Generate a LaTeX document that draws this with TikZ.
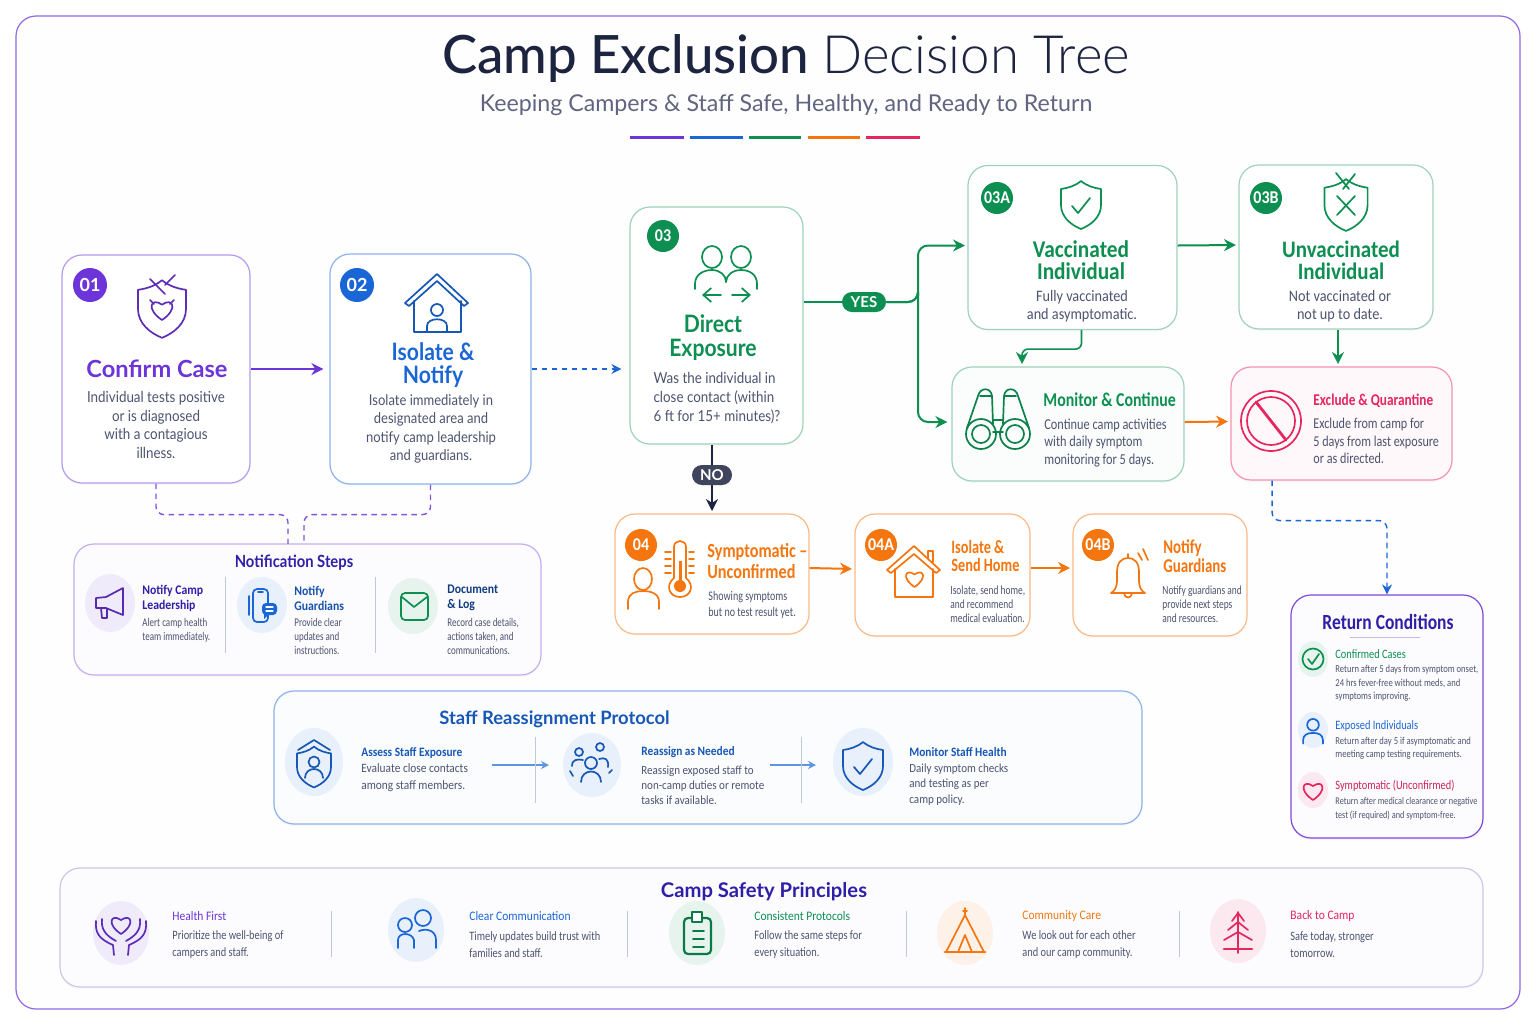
\documentclass[tikz,border=0pt]{standalone}
\usepackage{fontspec}
\setmainfont{Lato}
\newfontfamily\lightf{Lato Light}
\newfontfamily\nra[FakeStretch=0.88]{Lato}
\newfontfamily\nrb[FakeStretch=0.89]{Carlito}
\newfontfamily\nrc[FakeStretch=0.81]{Carlito}
\newfontfamily\nrd[FakeStretch=0.76]{Carlito}
\usetikzlibrary{arrows.meta,shadows,calc}
\definecolor{cpur}{HTML}{6D35D9}
\definecolor{cblu}{HTML}{1B66D6}
\definecolor{cgrn}{HTML}{0E8F52}
\definecolor{corg}{HTML}{F5760F}
\definecolor{cpnk}{HTML}{E5265F}
\definecolor{cnav}{HTML}{1D2440}
\definecolor{cbody}{HTML}{4E5370}
\definecolor{cind}{HTML}{2F1FA8}
\newcommand{\fz}[2]{\fontsize{#1}{#2}\selectfont}
\newcommand{\shieldp}{(0,-24) .. controls (-6,-19) and (-13,-17) .. (-20,-16) -- (-20,0) .. controls (-20,12) and (-10,20) .. (0,24) .. controls (10,20) and (20,12) .. (20,0) -- (20,-16) .. controls (13,-17) and (6,-19) .. (0,-24) -- cycle}
\newcommand{\heartp}{(0,10) .. controls (-15,0) and (-10,-11) .. (0,-4) .. controls (10,-11) and (15,0) .. (0,10) -- cycle}
\newcommand{\personp}{(0,-8) circle (6.5) (-11,13) -- (-11,9) .. controls (-11,3) and (-6,1) .. (0,1) .. controls (6,1) and (11,3) .. (11,9) -- (11,13)}
\tikzset{
  card/.style={draw=#1, fill=white, rounded corners=10pt, line width=0.6pt, inner sep=0pt, drop shadow={shadow xshift=0pt, shadow yshift=-1pt, opacity=0.07, fill=#1}},
  sized/.style 2 args={minimum width=#1*0.5pt, minimum height=#2*0.5pt},
  badge/.style={circle, fill=#1, text=white, inner sep=0pt, minimum size=17pt, font=\bfseries\fz{9}{9}},
  badgec/.style={circle, fill=#1, text=white, inner sep=0pt, minimum size=16pt, font=\nrb\bfseries\fz{9}{9}},
  pill/.style={rounded corners=5pt, fill=#1, text=white, inner sep=0pt, minimum width=22pt, minimum height=10pt, font=\bfseries\fz{7.5}{8}},
  tc/.style={inner sep=0pt, align=center},
  tl/.style={inner sep=0pt, align=left, anchor=west},
  flow/.style={-{Stealth[length=6pt,width=6pt]}, line width=1pt, rounded corners=5pt, shorten >=1.2pt},
  dflow/.style={-{Stealth[length=5pt,width=5pt]}, line width=0.7pt, rounded corners=4pt, dash pattern=on 2.8pt off 2.2pt},
  ic/.style={draw=#1, line width=0.85pt, line cap=round, line join=round},
  sep/.style={draw=#1, line width=0.5pt},
}
\begin{document}
\begin{tikzpicture}[x=0.5pt, y=-0.5pt]
\useasboundingbox (0,0) rectangle (1536,1024);
\fill[white] (0,0) rectangle (1536,1024);
\draw[draw=cpur!75, fill=blue!0.4, line width=0.6pt, rounded corners=10pt] (16,16) rectangle (1520,1009);
% title
\node[tc, font=\fz{26.4}{27}, text=cnav] (heading) at (786,59) {{\fontspec{Lato Medium}Camp Exclusion} {\lightf Decision Tree}};
\node[tc, font=\fz{11.6}{14}, text=cbody!90] (subhead) at (786,105) {Keeping Campers \& Staff Safe, Healthy, and Ready to Return};
\foreach \xa/\xb/\col in {630/684/cpur, 690/743/cblu, 749/801/cgrn, 808/860/corg, 866/920/cpnk}
  \draw[\col, line width=1.5pt] (\xa,137) -- (\xb,137);
% main cards
\node[card=cpur!50, sized={188}{228}] (case) at (156,369) {};
\node[card=cblu!50, sized={201}{230}] (notify) at (430.5,369) {};
\node[card=cgrn!40, sized={173}{237}] (expo) at (716.5,325.5) {};
\node[card=cgrn!40, sized={209}{164}] (vacc) at (1072.5,247.5) {};
\node[card=cgrn!40, sized={194}{164}] (unvac) at (1336,247) {};
\node[card=cgrn!40, fill=cgrn!2, sized={232}{114}] (monit) at (1068,424) {};
\node[card=cpnk!50, fill=cpnk!3, sized={221}{113}] (excl) at (1341.5,423.5) {};
\node[card=corg!50, sized={194}{120}] (sympt) at (712,574) {};
\node[card=corg!50, sized={175}{122}] (home) at (942.5,575) {};
\node[card=corg!50, sized={174}{122}] (guard) at (1160,575) {};
\node[card=cpur!40, fill=cpur!2, sized={467}{131}] (steps) at (307.5,609.5) {};
\node[card=cblu!50, fill=cblu!2, sized={868}{133}] (staff) at (708,757.5) {};
\node[card=cpur!90, fill=cpur!2, sized={192}{243}] (retrn) at (1387,716.5) {};
\node[card=cind!25, fill=cind!1.5, sized={1423}{119}] (princ) at (771.5,927.5) {};
% badges
\node[badge=cpur] (b1) at (90,285) {01};
\node[badge=cblu] (b2) at (357,285) {02};
\node[badgec=cgrn] (b3) at (663,236) {03};
\node[badgec=cgrn] (b3a) at (997,198) {03A};
\node[badgec=cgrn] (b3b) at (1266,198) {03B};
\node[badgec=corg] (b4) at (641,545) {04};
\node[badgec=corg] (b4a) at (881,545) {04A};
\node[badgec=corg] (b4b) at (1098,545) {04B};
% connectors
\coordinate (noteL) at (288,544); \coordinate (noteR) at (304,544);
\node[pill=cgrn] (yes) at (864,302) {YES};
\node[pill=cnav!85, minimum width=20pt] (no) at (712,475) {NO};
\draw[flow, cpur, shorten >=3pt] (case) -- (notify);
\draw[dflow, cblu] (notify.east) -- ([xshift=-4pt]notify.east -| expo.west);
\draw[dflow, cpur!85, -] (case.south) -- ++(0,31) -| (noteL);
\draw[dflow, cpur!85, -] (notify.south) -- ++(0,30) -| (noteR);
\draw[line width=1pt, cgrn] (expo.east |- yes) -- (yes);
\draw[flow, cgrn] (yes) -| (918,302) |- ([yshift=1pt]vacc.west);
\draw[flow, cgrn, shorten >=2pt] (yes) -| (918,302) |- ([yshift=1pt]monit.west);
\draw[flow, cgrn] ([yshift=1pt]vacc.east) -- ([yshift=1pt]unvac.west);
\draw[flow, cgrn, line width=0.8pt, rounded corners=3pt] ([xshift=4.5pt]vacc.south) -- ++(0,19) -| ([xshift=-23pt]monit.north);
\draw[flow, cgrn] ([xshift=1pt]unvac.south) -- ([xshift=1pt]unvac.south |- excl.north);
\draw[flow, corg] ([yshift=1pt]monit.east) -- ([yshift=1pt]excl.west);
\draw[line width=1pt, cnav] (expo.south -| no) -- (no);
\draw[flow, cnav] (no) -- (no |- sympt.north);
\draw[flow, corg] ([yshift=3pt]sympt.east) -- ([yshift=3pt]home.west);
\draw[flow, corg] ([yshift=3.5pt]home.east) -- ([yshift=3.5pt]guard.west);
\draw[dflow, cblu] ([xshift=-34.7pt]excl.south) -- ++(0,40) -| (retrn.north);
% card texts
\node[tc, font=\fz{11.8}{12}\bfseries, text=cpur] (caseT) at (157,369) {Confirm Case};
\node[tc, font=\nra\fz{7.6}{9.25}, text=cbody] (caseB) at (156,425) {Individual tests positive\\ or is diagnosed\\ with a contagious\\ illness.};
\node[tc, font=\nra\fz{12}{11.5}\bfseries, text=cblu] (notifyT) at (433,365) {Isolate \&\\ Notify};
\node[tc, font=\nra\fz{7.4}{9.25}, text=cbody] (notifyB) at (431,429) {Isolate immediately in\\ designated area and\\ notify camp leadership\\ and guardians.};
\node[tc, font=\nra\fz{12}{12}\bfseries, text=cgrn] (expoT) at (713,338) {Direct\\ Exposure};
\node[tc, font=\nra\fz{7.6}{9.5}, text=cbody, align=left] (expoB) at (717,398) {Was the individual in\\ close contact (within\\ 6 ft for 15+ minutes)?};
\node[tc, font=\nrb\fz{12}{11}\bfseries, text=cgrn] (vaccT) at (1081,260) {Vaccinated\\ Individual};
\node[tc, font=\nrb\fz{8}{9}, text=cbody] (vaccB) at (1082,306) {Fully vaccinated\\ and asymptomatic.};
\node[tc, font=\nrb\fz{11.8}{11}\bfseries, text=cgrn] (unvacT) at (1341,260) {Unvaccinated\\ Individual};
\node[tc, font=\nrb\fz{8}{9}, text=cbody] (unvacB) at (1340,306) {Not vaccinated or\\ not up to date.};
\node[tl, font=\nrc\fz{9.8}{10}\bfseries, text=cgrn] (monitT) at (1043,400) {Monitor \& Continue};
\node[tl, font=\nrc\fz{7.6}{8.8}, text=cbody] (monitB) at (1044,443) {Continue camp activities\\ with daily symptom\\ monitoring for 5 days.};
\node[tl, font=\nrc\fz{8.2}{9}\bfseries, text=cpnk] (exclT) at (1313,401) {Exclude \& Quarantine};
\node[tl, font=\nrc\fz{7.5}{8.6}, text=cbody] (exclB) at (1313,441) {Exclude from camp for\\ 5 days from last exposure\\ or as directed.};
\node[tl, font=\nrc\fz{10}{10.5}\bfseries, text=corg] (symptT) at (707,561.5) {Symptomatic –\\ Unconfirmed};
\node[tl, font=\nrd\fz{6.6}{8}, text=cbody] (symptB) at (708,605) {Showing symptoms\\ but no test result yet.};
\node[tl, font=\nrd\fz{9.4}{9}\bfseries, text=corg] (homeT) at (951,556) {Isolate \&\\ Send Home};
\node[tl, font=\nrd\fz{6.2}{7}, text=cbody] (homeB) at (950,604) {Isolate, send home,\\ and recommend\\ medical evaluation.};
\node[tl, font=\nrd\fz{9.8}{9.5}\bfseries, text=corg] (guardT) at (1163,556.5) {Notify\\ Guardians};
\node[tl, font=\nrd\fz{6.2}{7}, text=cbody] (guardB) at (1162,604) {Notify guardians and\\ provide next steps\\ and resources.};
% notification steps
\node[tc, font=\nra\fz{8.4}{9}\bfseries, text=cind] (stepsT) at (294,562.5) {Notification Steps};
\node[tl, font=\nrb\fz{6.6}{7.6}\bfseries, text=cind] (s1T) at (142,598) {Notify Camp\\ Leadership};
\node[tl, font=\nrd\fz{5.9}{7}, text=cbody] (s1B) at (142,630) {Alert camp health\\ team immediately.};
\node[tl, font=\nrb\fz{6.6}{7.6}\bfseries, text=cblu!80!black] (s2T) at (294,598) {Notify\\ Guardians};
\node[tl, font=\nrd\fz{5.9}{6.8}, text=cbody] (s2B) at (294,636.5) {Provide clear\\ updates and\\ instructions.};
\node[tl, font=\nrb\fz{6.6}{7.6}\bfseries, text=cblu!60!black] (s3T) at (447,598) {Document\\ \& Log};
\node[tl, font=\nrd\fz{5.9}{6.8}, text=cbody] (s3B) at (447,636.5) {Record case details,\\ actions taken, and\\ communications.};
% staff protocol
\node[tl, font=\fz{9.2}{10}\bfseries, text=cblu!85!black] (staffT) at (439,719) {Staff Reassignment Protocol};
\node[tl, font=\nrb\fz{6.4}{7}\bfseries, text=cblu!85!black] (f1T) at (361,752.5) {Assess Staff Exposure};
\node[tl, font=\nrb\fz{6.4}{8.5}, text=cbody] (f1B) at (361,777.5) {Evaluate close contacts\\ among staff members.};
\node[tl, font=\nrb\fz{6.4}{7}\bfseries, text=cblu!85!black] (f2T) at (641,752.5) {Reassign as Needed};
\node[tl, font=\nrb\fz{6.2}{7.6}, text=cbody] (f2B) at (641,785) {Reassign exposed staff to\\ non-camp duties or remote\\ tasks if available.};
\node[tl, font=\nrb\fz{6.4}{7}\bfseries, text=cblu!85!black] (f3T) at (909,752.5) {Monitor Staff Health};
\node[tl, font=\nrb\fz{6.2}{7.7}, text=cbody] (f3B) at (909,784.5) {Daily symptom checks\\ and testing as per\\ camp policy.};
\coordinate (fa) at (492,765); \coordinate (fb) at (549,765); \coordinate (fc) at (770,765); \coordinate (fd) at (816,765);
\draw[flow, cblu!70!white, line width=0.55pt, shorten >=0pt, -{Stealth[length=4pt,width=4pt]}] (fa) -- (fb);
\draw[flow, cblu!70!white, line width=0.55pt, shorten >=0pt, -{Stealth[length=4pt,width=4pt]}] (fc) -- (fd);
% return conditions
\node[tc, font=\nrc\fz{10.8}{11}\bfseries, text=cind] (retrnT) at (1388,622) {Return Conditions};
\draw[cind!30, line width=0.5pt] (1350,637) -- (1420,637);
\node[tl, font=\nrc\fz{6.4}{7}, text=cgrn] (r1T) at (1335,654) {Confirmed Cases};
\node[tl, font=\nrc\fz{5.3}{6.7}, text=cbody] (r1B) at (1335,683.5) {Return after 5 days from symptom onset,\\ 24 hrs fever-free without meds, and\\ symptoms improving.};
\node[tl, font=\nrc\fz{6.4}{7}, text=cblu] (r2T) at (1335,726) {Exposed Individuals};
\node[tl, font=\nrc\fz{5.3}{6.6}, text=cbody] (r2B) at (1335,748.5) {Return after day 5 if asymptomatic and\\ meeting camp testing requirements.};
\node[tl, font=\nrc\fz{6.4}{7}, text=cpnk!90!black] (r3T) at (1335,786) {Symptomatic (Unconfirmed)};
\node[tl, font=\nrc\fz{5.1}{6.8}, text=cbody] (r3B) at (1335,809) {Return after medical clearance or negative\\ test (if required) and symptom-free.};
% principles
\node[tc, font=\fz{10.1}{11}\bfseries, text=cind] (princT) at (764,892) {Camp Safety Principles};
\foreach \nm/\xx/\col/\head/\la/\lb in {p1/172/cpur/Health First/Prioritize the well-being of/campers and staff., p2/469/cblu/Clear Communication/Timely updates build trust with/families and staff., p3/754/cgrn/Consistent Protocols/Follow the same steps for/every situation., p4/1022/corg/Community Care/We look out for each other/and our camp community., p5/1290/cpnk/Back to Camp/{Safe today, stronger}/tomorrow.}{
  \node[tl, font=\nrb\fz{6.5}{7}, text=\col] (\nm T) at (\xx,916) {\head};
  \node[tl, font=\nrc\fz{6.4}{8.5}, text=cbody] (\nm B) at (\xx,944.5) {\la\\ \lb};
}
% dividers
\foreach \xx/\ya/\yb in {225/577/653, 375/577/653, 535/737/803, 801/737/803, 331/911/957, 627/911/957, 906/911/957, 1179/911/957}
  \draw[sep=cblu!40!black!25] (\xx,\ya) -- (\xx,\yb);
% icon discs
\foreach \xx/\yy/\rx/\ry/\col in {110/603/25/29/cpur, 262/605/25/28/cblu, 413/606/25/28/cgrn, 314/762/29/34/cblu, 592/765/29/32/cblu, 863/762/30/34/cblu, 1313/659/15/18/cgrn, 1313/730/15/18/cblu, 1313/790/15/18/cpnk, 121/933/28/32/cpur, 416/930/28/32/cblu, 697/933/28/32/cgrn, 965/933/28/32/corg, 1238/931/28/32/cpnk}
  \fill[\col!10] (\xx,\yy) ellipse [x radius=\rx, y radius=\ry];
% icons, step 01
\begin{scope}[shift={(162,309)}, ic=cpur!85!black]
  \draw[scale=1.2] \shieldp; \draw (-12,-30) -- (3,-15) (3,-24) -- (13,-34);
  \draw[scale=1.1] \heartp; \draw (-12,-9) -- (-8,-5) (12,-9) -- (8,-5);
\end{scope}
% step 02
\begin{scope}[shift={(436,304)}, ic=cblu!85!black]
  \draw (-31,-1) -- (1,-30) -- (32,-1) -- (28,2) -- (1,-23) -- (-27,2) -- cycle;
  \draw (-22,-3) -- (-22,28) -- (25,28) -- (25,-3);
  \draw (1,6) circle (6); \draw (-9,28) -- (-9,22) .. controls (-9,13) and (11,13) .. (11,22) -- (11,28);
\end{scope}
% step 03
\begin{scope}[shift={(726,272)}, ic=cgrn]
  \draw (-14,-15) ellipse [x radius=10, y radius=11] (15,-15) ellipse [x radius=10, y radius=11];
  \draw (-31,17) -- (-31,12) .. controls (-31,2) and (-22,-2) .. (-14,-2) .. controls (-6,-2) and (0,3) .. (0,10);
  \draw (0,10) .. controls (0,3) and (7,-2) .. (15,-2) .. controls (23,-2) and (31,2) .. (31,12) -- (31,17);
  \draw[-{Straight Barb[length=4pt,width=7pt]}] (-5,23) -- (-24,23); \draw[-{Straight Barb[length=4pt,width=7pt]}] (6,23) -- (25,23);
\end{scope}
% step 03A and 03B
\begin{scope}[shift={(1081,205)}, ic=cgrn]
  \draw \shieldp; \draw (-9,1) -- (-3,8) -- (9,-7);
\end{scope}
\begin{scope}[shift={(1346,205)}, ic=cgrn]
  \draw[scale=1.08] \shieldp; \draw (-9,-9) -- (9,10) (9,-9) -- (-9,10); \draw (-10,-32) -- (3,-16) (-3,-16) -- (9,-31);
\end{scope}
% monitor, exclude
\begin{scope}[shift={(998,420)}, ic=cgrn!90!black]
  \foreach \s in {-1,1}{
    \draw (17*\s,14) circle (15) (17*\s,14) circle (9);
    \draw (31*\s,8) -- (20*\s,-24) .. controls (18*\s,-33) and (7*\s,-33) .. (6*\s,-24) -- (5*\s,4);
    \draw (18*\s,-24) -- (7*\s,-24);
  }
  \draw (-5,0) -- (5,0) (-5,12) -- (5,12);
\end{scope}
\begin{scope}[shift={(1271,421)}, ic=cpnk]
  \draw (0,0) circle (30) (0,0) circle (24);
  \draw[line width=1.4pt] (-15,-19) -- (15,19);
\end{scope}
% step 04, 04A, 04B
\begin{scope}[shift={(645,590)}, ic=corg]
  \draw (-2,-11) ellipse [x radius=9, y radius=11];
  \draw (-17,19) -- (-17,12) .. controls (-17,3) and (-9,1) .. (-2,1) .. controls (5,1) and (14,3) .. (14,12) -- (14,19);
\end{scope}
\begin{scope}[shift={(680,585)}, ic=corg]
  \draw (-6,-7) -- (-6,-38) .. controls (-6,-46) and (6,-46) .. (6,-38) -- (6,-7) .. controls (15,0) and (11,12) .. (0,12) .. controls (-11,12) and (-15,0) .. (-6,-7) -- cycle;
  \fill[corg] (0,1) circle (6); \fill[corg] (-1.5,-24) rectangle (1.5,0);
  \foreach \yy in {-33,-26,-19,-12}{\draw (-15,\yy) -- (-9,\yy) (9,\yy) -- (14,\yy);}
\end{scope}
\begin{scope}[shift={(913,572)}, ic=corg]
  \draw (-26,-2) -- (1,-26) -- (27,-2) -- (23,1) -- (1,-18) -- (-22,1) -- cycle;
  \draw (-18,-3) -- (-18,25) -- (20,25) -- (20,-3); \draw (15,-14) -- (15,-21) -- (20,-21) -- (20,-10);
  \begin{scope}[shift={(1.5,6)}, scale=0.9] \draw \heartp; \end{scope}
\end{scope}
\begin{scope}[shift={(1128,575)}, ic=corg]
  \draw (-17,18) .. controls (-10,14) and (-11,6) .. (-11,-3) .. controls (-11,-13) and (-6,-17) .. (0,-17) .. controls (6,-17) and (11,-13) .. (11,-3) .. controls (11,6) and (10,14) .. (17,18) -- cycle;
  \draw (0,-17) -- (0,-21) (-4,18) .. controls (-4,24) and (4,24) .. (4,18);
  \draw (10,-22) -- (14,-15) (15,-26) -- (20,-15);
\end{scope}
% notification icons
\begin{scope}[shift={(110,603)}, ic=cpur!80!black]
  \draw (13,-15) -- (-4,-6) -- (-14,-5) -- (-14,5) -- (-4,5) -- (13,12) -- cycle;
  \draw (-9,5) -- (-8,15) -- (-3,15) -- (-3,6);
\end{scope}
\begin{scope}[shift={(260,605)}, ic=cblu]
  \draw[rounded corners=2pt] (-7,-16) rectangle (8,17); \draw (-11,-9) -- (-11,10) (-2,-13) -- (3,-13);
  \fill[cblu, rounded corners=2pt] (2,-2) rectangle (17,10); \fill[cblu] (4,8) -- (4,14) -- (9,9) -- cycle;
  \draw[white, line width=0.6pt] (6,2) -- (13,2) (6,6) -- (13,6);
\end{scope}
\begin{scope}[shift={(414,606)}, ic=cgrn]
  \draw[rounded corners=2pt] (-13,-13) rectangle (14,14); \draw (-12,-9) -- (0,1) -- (13,-9);
\end{scope}
% staff icons
\begin{scope}[shift={(314,767)}, ic=cblu!85!black]
  \draw[scale=0.85] \shieldp; \draw (-16,-17) -- (0,-27) -- (16,-17);
  \draw (0,-5) circle (5.5); \draw (-9,11) .. controls (-9,-1) and (9,-1) .. (9,11);
\end{scope}
\begin{scope}[shift={(591,768)}, ic=cblu!85!black]
  \draw (0,-5) circle (6); \draw (-10,14) .. controls (-10,0) and (10,0) .. (10,14);
  \draw (-12,-16) circle (4) (9,-21) circle (4); \draw (-19,-2) .. controls (-19,-9) and (-13,-9) .. (-8,-8);
  \draw (8,-9) .. controls (14,-11) and (18,-9) .. (17,-1);
  \draw (-21,3) -- (-18,8) (21,2) -- (18,5);
\end{scope}
\begin{scope}[shift={(863,766)}, ic=cblu!85!black]
  \draw \shieldp; \draw (-9,1) -- (-3,8) -- (9,-7);
\end{scope}
% return icons
\begin{scope}[shift={(1313,659)}, ic=cgrn]
  \draw (0,0) circle (10.5); \draw (-5,0) -- (-1,5) -- (6,-5);
\end{scope}
\begin{scope}[shift={(1313,732)}, ic=cblu]
  \draw[scale=0.9] \personp;
\end{scope}
\begin{scope}[shift={(1313,790)}, ic=cpnk]
  \draw \heartp;
\end{scope}
% principle icons
\begin{scope}[shift={(121,933)}, ic=cpur!85!black]
  \begin{scope}[shift={(0,-9)}] \draw \heartp; \end{scope}
  \foreach \s in {-1,1}{\draw (25*\s,-12) .. controls (26*\s,0) and (22*\s,6) .. (8*\s,12) -- (7*\s,22) (19*\s,-14) .. controls (20*\s,-4) and (16*\s,2) .. (5*\s,8);}
\end{scope}
\begin{scope}[shift={(416,930)}, ic=cblu]
  \draw (-11,-5) circle (7) (7,-12) circle (8);
  \draw (-18,18) -- (-18,10) .. controls (-18,2) and (-4,2) .. (-2,10) -- (-2,18);
  \draw (3,1) .. controls (10,-2) and (20,0) .. (20,10) -- (20,18);
\end{scope}
\begin{scope}[shift={(697,933)}, ic=cgrn!85!black]
  \draw[line width=1.1pt, rounded corners=2pt] (-13,-15) rectangle (14,21);
  \draw[fill=white] (-5,-21) -- (5,-21) -- (5,-11) -- (-5,-11) -- cycle;
  \foreach \yy in {-2,6,14}{\draw (-4,\yy) -- (7,\yy);}
\end{scope}
\begin{scope}[shift={(965,933)}, ic=corg]
  \draw (-19,19) -- (0,-18) -- (19,19) (0,-18) -- (0,-25);
  \draw (-7,19) -- (0,2) -- (7,19);
  \draw[line width=1.3pt] (-20,19) -- (20,19); \draw (-2,-22) -- (2,-22);
\end{scope}
\begin{scope}[shift={(1238,931)}, ic=cpnk]
  \draw (0,-19) -- (0,22);
  \foreach \yy/\w in {-10/6, -1/10, 9/14}{\draw (-\w,\yy) -- (0,\yy-8) -- (\w,\yy);}
  \draw[line width=1.3pt] (-14,18) -- (14,18);
\end{scope}
\end{tikzpicture}
\end{document}
